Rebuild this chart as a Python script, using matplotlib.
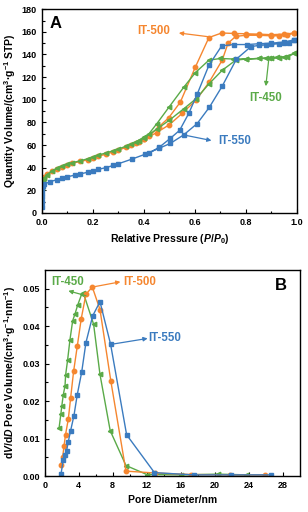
import matplotlib
matplotlib.use("Agg")
import matplotlib.pyplot as plt
import numpy as np

plt.rcParams['font.family'] = ['Liberation Sans', 'DejaVu Sans']
plt.rcParams['mathtext.fontset'] = 'custom'
plt.rcParams['mathtext.rm'] = 'Liberation Sans:bold'
plt.rcParams['mathtext.it'] = 'Liberation Sans:bold:italic'
plt.rcParams['mathtext.bf'] = 'Liberation Sans:bold'

BLUE = '#3b7bbf'
ORANGE = '#f5862f'
GREEN = '#5aaa48'

# ---------------- Panel A: isotherms ----------------
# IT-500
p500_ads = [0.0005, 0.003, 0.01, 0.02, 0.04, 0.06, 0.08, 0.10, 0.12, 0.15, 0.18, 0.20, 0.22, 0.25,
            0.28, 0.30, 0.33, 0.35, 0.38, 0.40, 0.45, 0.50, 0.55, 0.606, 0.657, 0.707, 0.73, 0.76,
            0.80, 0.85, 0.90, 0.93, 0.96, 0.99]
v500_ads = [24, 29, 32, 34.5, 37, 39, 41, 42.5, 44, 45.5, 47, 48.5, 50, 52,
            54, 55.5, 58, 60, 63, 65, 71, 78, 88, 100, 116, 135, 150, 156,
            157, 157, 156.5, 156.5, 157, 159]
p500_des = [0.99, 0.95, 0.90, 0.85, 0.80, 0.753, 0.705, 0.655, 0.602, 0.543, 0.497, 0.458, 0.42, 0.40, 0.37]
v500_des = [159, 158, 157.5, 158, 158.3, 158.6, 159, 155, 129, 98, 84, 76, 68, 65.5, 62]

# IT-450
p450_ads = [0.0005, 0.003, 0.01, 0.02, 0.04, 0.06, 0.08, 0.10, 0.12, 0.15, 0.18, 0.20, 0.22, 0.25,
            0.28, 0.30, 0.33, 0.35, 0.38, 0.40, 0.45, 0.50, 0.556, 0.605, 0.655, 0.707, 0.76,
            0.80, 0.85, 0.88, 0.90, 0.93, 0.96, 0.99]
v450_ads = [22, 27, 31, 34, 37, 39.5, 41.5, 43, 44.5, 46, 48, 49.5, 51, 53,
            55, 56.5, 59, 61, 64, 66, 74, 82, 92, 101, 114, 126, 135,
            136, 136.5, 136.5, 136.8, 137, 137.5, 141]
p450_des = [0.99, 0.95, 0.92, 0.89, 0.85, 0.80, 0.75, 0.70, 0.655, 0.602, 0.556, 0.50, 0.451, 0.42, 0.40, 0.37]
v450_des = [141, 138, 137.5, 137, 136.5, 136, 136, 136.5, 135, 124, 111, 94, 79, 70, 67, 63]

# IT-550
p550_ads = [0.0001, 0.0003, 0.0006, 0.001, 0.002, 0.005, 0.01, 0.03, 0.06, 0.08, 0.10, 0.13, 0.15,
            0.18, 0.20, 0.22, 0.25, 0.28, 0.30, 0.353, 0.406, 0.458, 0.504, 0.556, 0.609, 0.657,
            0.707, 0.763, 0.82, 0.85, 0.88, 0.90, 0.93, 0.95, 0.97, 0.99]
v550_ads = [5, 10, 14, 18, 21, 23.5, 25.5, 27.5, 29.5, 31, 32, 33.5, 34.5,
            36, 37, 38.5, 40, 42, 43.5, 47.6, 52, 57, 61.5, 69, 79, 93.5,
            112, 136, 147, 148, 148.5, 149, 149.5, 150, 150.5, 153]
p550_des = [0.99, 0.95, 0.90, 0.85, 0.806, 0.753, 0.705, 0.655, 0.609, 0.576, 0.540, 0.504, 0.46, 0.42]
v550_des = [153, 151, 150, 149.5, 148.8, 148.8, 147.6, 130.5, 105, 88, 73, 66, 58, 53]

# ---------------- Panel B: pore size distributions ----------------
d450 = [1.70, 1.90, 2.02, 2.19, 2.39, 2.46, 2.70, 2.97, 3.29, 3.56, 3.88, 4.35, 4.55, 5.75, 6.50,
        7.70, 9.55, 12.0, 16.0, 20.4, 23.7]
v450 = [0.0129, 0.0165, 0.0188, 0.0217, 0.0240, 0.0269, 0.0310, 0.0363, 0.0414, 0.0432, 0.0456,
        0.0485, 0.0488, 0.0405, 0.0271, 0.0121, 0.0028, 0.0004, 0.0003, 0.0005, 0.0003]

d500 = [1.92, 2.11, 2.27, 2.45, 2.78, 3.05, 3.40, 3.83, 4.30, 4.85, 5.60, 6.50, 7.77, 9.55,
        13.0, 17.2, 21.8, 25.9]
v500 = [0.0029, 0.0050, 0.0079, 0.0110, 0.0152, 0.0208, 0.0279, 0.0346, 0.0420, 0.0485, 0.0504,
        0.0444, 0.0254, 0.0013, 0.0008, 0.0004, 0.0003, 0.0003]

d550 = [1.92, 2.19, 2.39, 2.58, 2.78, 3.05, 3.44, 3.83, 4.35, 4.85, 5.64, 6.50, 7.75, 9.63,
        12.9, 17.5, 21.9, 26.6]
v550 = [0.0005, 0.0044, 0.0056, 0.0068, 0.0092, 0.0121, 0.0161, 0.0217, 0.0277, 0.0356, 0.0427,
        0.0465, 0.0351, 0.0110, 0.0009, 0.0003, 0.0003, 0.0003]

fig = plt.figure(figsize=(3.08, 5.12), dpi=100)
axA = fig.add_axes([0.136, 0.584, 0.828, 0.398])
axB = fig.add_axes([0.145, 0.0703, 0.829, 0.4027])

ms = 3.2
lw = 1.0
def series(ax, x, y, color, marker):
    ax.plot(x, y, color=color, marker=marker, ms=ms, lw=lw, mec=color, mfc=color)

series(axA, p500_ads + p500_des, v500_ads + v500_des, ORANGE, 'o')
series(axA, p450_ads + p450_des, v450_ads + v450_des, GREEN, '<')
series(axA, p550_ads + p550_des, v550_ads + v550_des, BLUE, 's')

series(axB, d450, v450, GREEN, '<')
series(axB, d500, v500, ORANGE, 'o')
series(axB, d550, v550, BLUE, 's')

def style(ax):
    for s in ax.spines.values():
        s.set_linewidth(1.0)
    ax.tick_params(which='both', direction='in', labelsize=6.5, width=0.8)
    ax.tick_params(which='major', length=3)
    ax.tick_params(which='minor', length=1.8)
    for lab in ax.get_xticklabels() + ax.get_yticklabels():
        lab.set_fontweight('bold')

axA.set_xlim(0, 1.0)
axA.set_ylim(0, 180)
axA.set_xticks(np.arange(0, 1.01, 0.2))
axA.set_xticks(np.arange(0.1, 1.0, 0.2), minor=True)
axA.set_yticks(np.arange(0, 181, 20))
axA.set_yticks(np.arange(10, 180, 20), minor=True)
axA.set_xticklabels(['0.0', '0.2', '0.4', '0.6', '0.8', '1.0'])
style(axA)
axA.set_xlabel(r'Relative Pressure ($P$/$P_{0}$)', fontsize=7.5, fontweight='bold', labelpad=4)
axA.set_ylabel('Quantity Volume/(cm$^{3}$·g$^{-1}$ STP)', fontsize=7.5, fontweight='bold', labelpad=3)
axA.text(0.03, 0.93, 'A', transform=axA.transAxes, fontsize=12, fontweight='bold', va='center')

axB.set_xlim(0, 30)
axB.set_ylim(0, 0.055)
axB.set_xticks(np.arange(0, 29, 4))
axB.set_xticks(np.arange(2, 30, 4), minor=True)
axB.set_yticks(np.arange(0, 0.051, 0.01))
axB.set_yticks(np.arange(0.005, 0.055, 0.01), minor=True)
axB.set_yticklabels(['0.00', '0.01', '0.02', '0.03', '0.04', '0.05'])
style(axB)
axB.set_xlabel('Pore Diameter/nm', fontsize=7.5, fontweight='bold', labelpad=4)
axB.set_ylabel(r'd$V$/d$D$ Pore Volume/(cm$^{3}$·g$^{-1}$·nm$^{-1}$)', fontsize=7.5, fontweight='bold', labelpad=3)
axB.text(0.95, 0.925, 'B', transform=axB.transAxes, fontsize=12, fontweight='bold', va='center', ha='right')

akw = dict(fontsize=8.3, fontweight='bold', va='center')
arw = dict(arrowstyle='-|>', lw=0.9, mutation_scale=6, shrinkA=0, shrinkB=0)

# Panel A labels with arrows (arrow from curve to label)
axA.annotate('', xy=(0.537, 159), xytext=(0.66, 155.5), arrowprops=dict(color=ORANGE, **arw))
axA.text(0.44, 161, 'IT-500', color=ORANGE, ha='center', **akw)
axA.annotate('', xy=(0.878, 112), xytext=(0.89, 136.5), arrowprops=dict(color=GREEN, **arw))
axA.text(0.94, 102, 'IT-450', color=GREEN, ha='right', **akw)
axA.annotate('', xy=(0.665, 64), xytext=(0.555, 69), arrowprops=dict(color=BLUE, **arw))
axA.text(0.69, 63.5, 'IT-550', color=BLUE, ha='left', **akw)

# Panel B labels
axB.annotate('', xy=(2.78, 0.0494), xytext=(4.85, 0.0481), arrowprops=dict(color=GREEN, **arw))
axB.text(2.7, 0.0518, 'IT-450', color=GREEN, ha='center', **akw)
axB.annotate('', xy=(8.9, 0.0518), xytext=(5.6, 0.0504), arrowprops=dict(color=ORANGE, **arw))
axB.text(9.2, 0.0518, 'IT-500', color=ORANGE, ha='left', **akw)
axB.annotate('', xy=(12.1, 0.0367), xytext=(7.75, 0.0351), arrowprops=dict(color=BLUE, **arw))
axB.text(12.2, 0.0367, 'IT-550', color=BLUE, ha='left', **akw)

fig.savefig('out.png', dpi=100)
